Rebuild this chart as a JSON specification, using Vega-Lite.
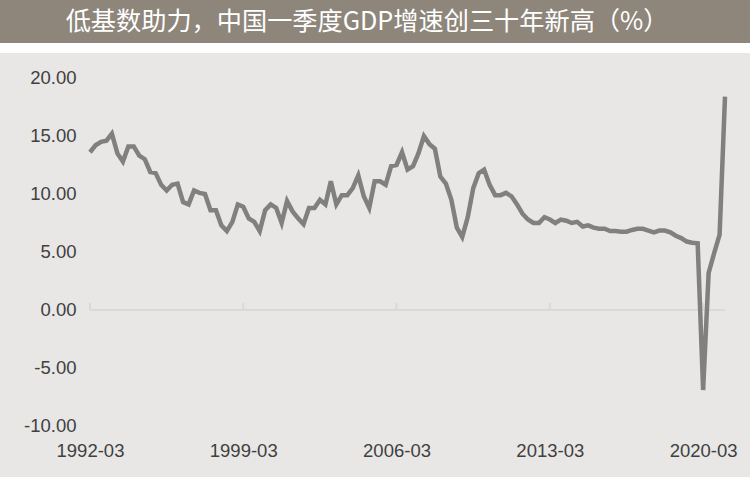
{
  "$schema": "https://vega.github.io/schema/vega-lite/v6.json",
  "background": "white",
  "padding": 0,
  "spacing": 10,
  "config": {
    "view": {"stroke": null},
    "axis": {"title": null, "grid": false, "domain": false, "ticks": false, "tickSize": 0, "labelPadding": 0, "labelFont": "Liberation Sans", "labelFontSize": 18.5, "labelColor": "#404040", "labelOverlap": false, "labelFlush": false},
    "axisX": {"offset": -27, "labelBaseline": "middle"},
    "axisY": {"offset": -76}
  },
  "vconcat": [
    {
      "width": 750,
      "height": 43,
      "view": {"fill": "#8e867b", "stroke": null},
      "data": {"values": [{"t": "低基数助力，中国一季度GDP增速创三十年新高（%）"}]},
      "mark": {"type": "text", "font": "Noto Sans CJK SC", "fontSize": 25.2, "color": "white", "baseline": "middle", "dx": -8, "dy": 0},
      "encoding": {"text": {"field": "t", "type": "nominal"}}
    },
    {
      "width": 750,
      "height": 424,
      "view": {"fill": "#e8e7e5", "stroke": null},
      "data": {
        "format": {"parse": {"d": "utc:'%Y-%m'"}},
        "values": [
          {"d": "1992-03", "v": 13.6}, {"d": "1992-06", "v": 14.2}, {"d": "1992-09", "v": 14.5}, {"d": "1992-12", "v": 14.6},
          {"d": "1993-03", "v": 15.2}, {"d": "1993-06", "v": 13.5}, {"d": "1993-09", "v": 12.8}, {"d": "1993-12", "v": 14.1},
          {"d": "1994-03", "v": 14.1}, {"d": "1994-06", "v": 13.3}, {"d": "1994-09", "v": 13.0}, {"d": "1994-12", "v": 11.9},
          {"d": "1995-03", "v": 11.8}, {"d": "1995-06", "v": 10.8}, {"d": "1995-09", "v": 10.3}, {"d": "1995-12", "v": 10.8},
          {"d": "1996-03", "v": 10.9}, {"d": "1996-06", "v": 9.3}, {"d": "1996-09", "v": 9.1}, {"d": "1996-12", "v": 10.3},
          {"d": "1997-03", "v": 10.1}, {"d": "1997-06", "v": 10.0}, {"d": "1997-09", "v": 8.6}, {"d": "1997-12", "v": 8.6},
          {"d": "1998-03", "v": 7.3}, {"d": "1998-06", "v": 6.8}, {"d": "1998-09", "v": 7.6}, {"d": "1998-12", "v": 9.1},
          {"d": "1999-03", "v": 8.9}, {"d": "1999-06", "v": 7.9}, {"d": "1999-09", "v": 7.6}, {"d": "1999-12", "v": 6.8},
          {"d": "2000-03", "v": 8.6}, {"d": "2000-06", "v": 9.1}, {"d": "2000-09", "v": 8.8}, {"d": "2000-12", "v": 7.5},
          {"d": "2001-03", "v": 9.4}, {"d": "2001-06", "v": 8.5}, {"d": "2001-09", "v": 7.9}, {"d": "2001-12", "v": 7.4},
          {"d": "2002-03", "v": 8.8}, {"d": "2002-06", "v": 8.8}, {"d": "2002-09", "v": 9.5}, {"d": "2002-12", "v": 9.1},
          {"d": "2003-03", "v": 11.1}, {"d": "2003-06", "v": 9.1}, {"d": "2003-09", "v": 9.9}, {"d": "2003-12", "v": 9.9},
          {"d": "2004-03", "v": 10.5}, {"d": "2004-06", "v": 11.6}, {"d": "2004-09", "v": 9.8}, {"d": "2004-12", "v": 8.8},
          {"d": "2005-03", "v": 11.1}, {"d": "2005-06", "v": 11.1}, {"d": "2005-09", "v": 10.8}, {"d": "2005-12", "v": 12.4},
          {"d": "2006-03", "v": 12.5}, {"d": "2006-06", "v": 13.6}, {"d": "2006-09", "v": 12.1}, {"d": "2006-12", "v": 12.4},
          {"d": "2007-03", "v": 13.5}, {"d": "2007-06", "v": 15.0}, {"d": "2007-09", "v": 14.3}, {"d": "2007-12", "v": 13.9},
          {"d": "2008-03", "v": 11.5}, {"d": "2008-06", "v": 10.9}, {"d": "2008-09", "v": 9.5}, {"d": "2008-12", "v": 7.1},
          {"d": "2009-03", "v": 6.3}, {"d": "2009-06", "v": 8.0}, {"d": "2009-09", "v": 10.5}, {"d": "2009-12", "v": 11.8},
          {"d": "2010-03", "v": 12.1}, {"d": "2010-06", "v": 10.8}, {"d": "2010-09", "v": 9.9}, {"d": "2010-12", "v": 9.9},
          {"d": "2011-03", "v": 10.1}, {"d": "2011-06", "v": 9.8}, {"d": "2011-09", "v": 9.1}, {"d": "2011-12", "v": 8.3},
          {"d": "2012-03", "v": 7.8}, {"d": "2012-06", "v": 7.5}, {"d": "2012-09", "v": 7.5}, {"d": "2012-12", "v": 8.0},
          {"d": "2013-03", "v": 7.8}, {"d": "2013-06", "v": 7.5}, {"d": "2013-09", "v": 7.8}, {"d": "2013-12", "v": 7.7},
          {"d": "2014-03", "v": 7.5}, {"d": "2014-06", "v": 7.6}, {"d": "2014-09", "v": 7.2}, {"d": "2014-12", "v": 7.3},
          {"d": "2015-03", "v": 7.1}, {"d": "2015-06", "v": 7.0}, {"d": "2015-09", "v": 7.0}, {"d": "2015-12", "v": 6.8},
          {"d": "2016-03", "v": 6.8}, {"d": "2016-06", "v": 6.75}, {"d": "2016-09", "v": 6.75}, {"d": "2016-12", "v": 6.9},
          {"d": "2017-03", "v": 7.0}, {"d": "2017-06", "v": 7.0}, {"d": "2017-09", "v": 6.85}, {"d": "2017-12", "v": 6.7},
          {"d": "2018-03", "v": 6.85}, {"d": "2018-06", "v": 6.85}, {"d": "2018-09", "v": 6.7}, {"d": "2018-12", "v": 6.4},
          {"d": "2019-03", "v": 6.2}, {"d": "2019-06", "v": 5.9}, {"d": "2019-09", "v": 5.8}, {"d": "2019-12", "v": 5.75},
          {"d": "2020-03", "v": -6.9}, {"d": "2020-06", "v": 3.2}, {"d": "2020-09", "v": 4.9}, {"d": "2020-12", "v": 6.5},
          {"d": "2021-03", "v": 18.4}
        ]
      },
      "layer": [
        {
          "mark": {"type": "rule", "color": "#d9d9d9", "strokeWidth": 2},
          "encoding": {
            "x": {"aggregate": "min", "field": "d", "type": "temporal"},
            "x2": {"aggregate": "max", "field": "d"},
            "y": {"datum": 0, "type": "quantitative"}
          }
        },
        {
          "data": {
            "format": {"parse": {"d": "utc:'%Y-%m'"}},
            "values": [{"d": "1992-03"}, {"d": "1999-03"}, {"d": "2006-03"}, {"d": "2013-03"}, {"d": "2020-03"}]
          },
          "mark": {"type": "rule", "color": "#d9d9d9", "strokeWidth": 2},
          "encoding": {
            "x": {"field": "d", "type": "temporal"},
            "y": {"datum": 0, "type": "quantitative"},
            "y2": {"datum": 0.6}
          }
        },
        {
          "mark": {"type": "line", "color": "#808080", "strokeWidth": 4.5},
          "encoding": {
            "x": {
              "field": "d", "type": "temporal",
              "scale": {"type": "utc", "domain": [{"year": 1988, "month": 1, "date": 21, "utc": true}, {"year": 2022, "month": 4, "date": 22, "utc": true}]},
              "axis": {
                "format": "%Y-%m",
                "values": [
                  {"year": 1992, "month": 3, "date": 1, "utc": true},
                  {"year": 1999, "month": 3, "date": 1, "utc": true},
                  {"year": 2006, "month": 3, "date": 1, "utc": true},
                  {"year": 2013, "month": 3, "date": 1, "utc": true},
                  {"year": 2020, "month": 3, "date": 1, "utc": true}
                ]
              }
            },
            "y": {
              "field": "v", "type": "quantitative",
              "scale": {"domain": [-14.397, 22.155], "nice": false, "zero": false},
              "axis": {"values": [-10, -5, 0, 5, 10, 15, 20], "labelExpr": "(datum.value < 0 ? '-' : '') + format(abs(datum.value), '.2f')"}
            }
          }
        }
      ]
    }
  ]
}
